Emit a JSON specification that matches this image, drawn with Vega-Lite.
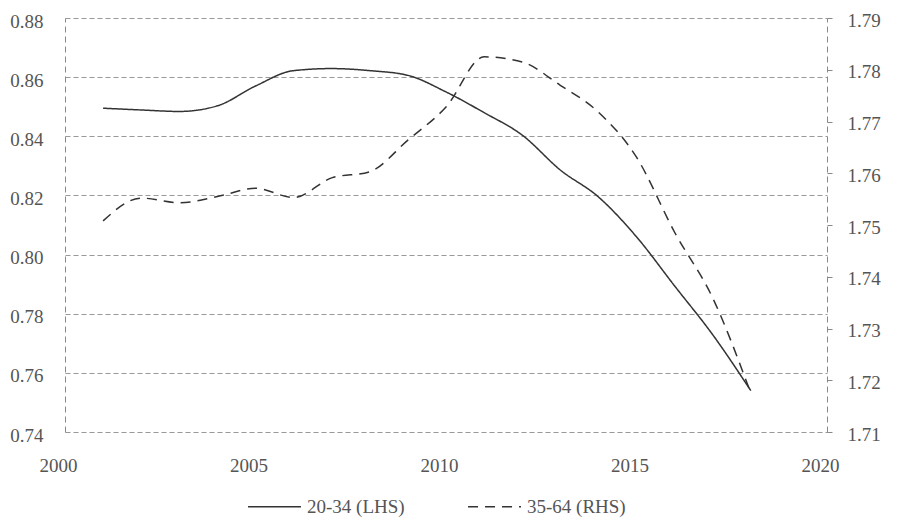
{
  "$schema": "https://vega.github.io/schema/vega-lite/v6.json",
  "width": 762,
  "height": 414,
  "autosize": {"type": "none"},
  "padding": {"left": 65, "top": 18, "right": 73, "bottom": 95},
  "background": "white",
  "config": {
    "font": "Liberation Serif",
    "view": {"stroke": null},
    "axis": {"labelFont": "Liberation Serif", "labelFontSize": 19, "labelColor": "#555555"},
    "legend": {"labelFont": "Liberation Serif", "labelFontSize": 19, "labelColor": "#555555"}
  },
  "data": {"values": [
    {"year": 2001, "series": "20-34 (LHS)", "value": 0.8495},
    {"year": 2002, "series": "20-34 (LHS)", "value": 0.8489},
    {"year": 2003, "series": "20-34 (LHS)", "value": 0.8484},
    {"year": 2004, "series": "20-34 (LHS)", "value": 0.8503},
    {"year": 2005, "series": "20-34 (LHS)", "value": 0.8570},
    {"year": 2006, "series": "20-34 (LHS)", "value": 0.8622},
    {"year": 2007, "series": "20-34 (LHS)", "value": 0.8629},
    {"year": 2008, "series": "20-34 (LHS)", "value": 0.8622},
    {"year": 2009, "series": "20-34 (LHS)", "value": 0.8606},
    {"year": 2010, "series": "20-34 (LHS)", "value": 0.8550},
    {"year": 2011, "series": "20-34 (LHS)", "value": 0.8480},
    {"year": 2012, "series": "20-34 (LHS)", "value": 0.8404},
    {"year": 2013, "series": "20-34 (LHS)", "value": 0.8286},
    {"year": 2014, "series": "20-34 (LHS)", "value": 0.8195},
    {"year": 2015, "series": "20-34 (LHS)", "value": 0.8060},
    {"year": 2016, "series": "20-34 (LHS)", "value": 0.7894},
    {"year": 2017, "series": "20-34 (LHS)", "value": 0.7729},
    {"year": 2018, "series": "20-34 (LHS)", "value": 0.7540},
    {"year": 2001, "series": "35-64 (RHS)", "value": 1.7508},
    {"year": 2002, "series": "35-64 (RHS)", "value": 1.7552},
    {"year": 2003, "series": "35-64 (RHS)", "value": 1.7543},
    {"year": 2004, "series": "35-64 (RHS)", "value": 1.7555},
    {"year": 2005, "series": "35-64 (RHS)", "value": 1.7571},
    {"year": 2006, "series": "35-64 (RHS)", "value": 1.7553},
    {"year": 2007, "series": "35-64 (RHS)", "value": 1.7591},
    {"year": 2008, "series": "35-64 (RHS)", "value": 1.7603},
    {"year": 2009, "series": "35-64 (RHS)", "value": 1.7664},
    {"year": 2010, "series": "35-64 (RHS)", "value": 1.7728},
    {"year": 2011, "series": "35-64 (RHS)", "value": 1.7825},
    {"year": 2012, "series": "35-64 (RHS)", "value": 1.7815},
    {"year": 2013, "series": "35-64 (RHS)", "value": 1.7770},
    {"year": 2014, "series": "35-64 (RHS)", "value": 1.7718},
    {"year": 2015, "series": "35-64 (RHS)", "value": 1.7631},
    {"year": 2016, "series": "35-64 (RHS)", "value": 1.7486},
    {"year": 2017, "series": "35-64 (RHS)", "value": 1.7359},
    {"year": 2018, "series": "35-64 (RHS)", "value": 1.7175}
  ]},
  "encoding": {
    "x": {
      "field": "year",
      "type": "quantitative",
      "scale": {"domain": [2000, 2020], "nice": false, "zero": false},
      "axis": {
        "title": null,
        "values": [2000, 2005, 2010, 2015, 2020],
        "format": "d",
        "domain": false,
        "ticks": false,
        "grid": false,
        "labelFlush": false,
        "labelPadding": 24,
        "labelOffset": -7
      }
    },
    "strokeDash": {
      "field": "series",
      "type": "nominal",
      "scale": {"domain": ["20-34 (LHS)", "35-64 (RHS)"], "range": [[1, 0], [10, 7]]},
      "legend": {
        "title": null,
        "orient": "none",
        "direction": "horizontal",
        "legendX": 182,
        "legendY": 461,
        "symbolType": "stroke",
        "symbolSize": 2800,
        "symbolStrokeWidth": 1.5,
        "symbolStrokeColor": "#333333",
        "labelOffset": 5,
        "columnPadding": 60
      }
    }
  },
  "layer": [
    {
      "transform": [{"filter": "datum.series == '20-34 (LHS)'"}],
      "mark": {"type": "line", "interpolate": "monotone", "color": "#333333", "strokeWidth": 1.5},
      "encoding": {
        "y": {
          "field": "value",
          "type": "quantitative",
          "scale": {"domain": [0.74, 0.88], "nice": false, "zero": false},
          "axis": {
            "title": null,
            "orient": "left",
            "values": [0.74, 0.76, 0.78, 0.80, 0.82, 0.84, 0.86, 0.88],
            "format": ".2f",
            "ticks": false,
            "domainColor": "#888888",
            "domainDash": [6, 4],
            "grid": true,
            "gridColor": "#999999",
            "gridDash": [5, 3],
            "labelPadding": 22,
            "labelOffset": 3
          }
        }
      }
    },
    {
      "transform": [{"filter": "datum.series == '35-64 (RHS)'"}],
      "mark": {"type": "line", "interpolate": "monotone", "color": "#333333", "strokeWidth": 1.5},
      "encoding": {
        "y": {
          "field": "value",
          "type": "quantitative",
          "scale": {"domain": [1.71, 1.79], "nice": false, "zero": false},
          "axis": {
            "title": null,
            "orient": "right",
            "values": [1.71, 1.72, 1.73, 1.74, 1.75, 1.76, 1.77, 1.78, 1.79],
            "format": ".2f",
            "ticks": true,
            "tickSize": 5,
            "tickColor": "#888888",
            "domainColor": "#888888",
            "domainDash": [6, 4],
            "grid": false,
            "labelPadding": 15,
            "labelOffset": 2
          }
        }
      }
    }
  ],
  "resolve": {"scale": {"y": "independent"}}
}
